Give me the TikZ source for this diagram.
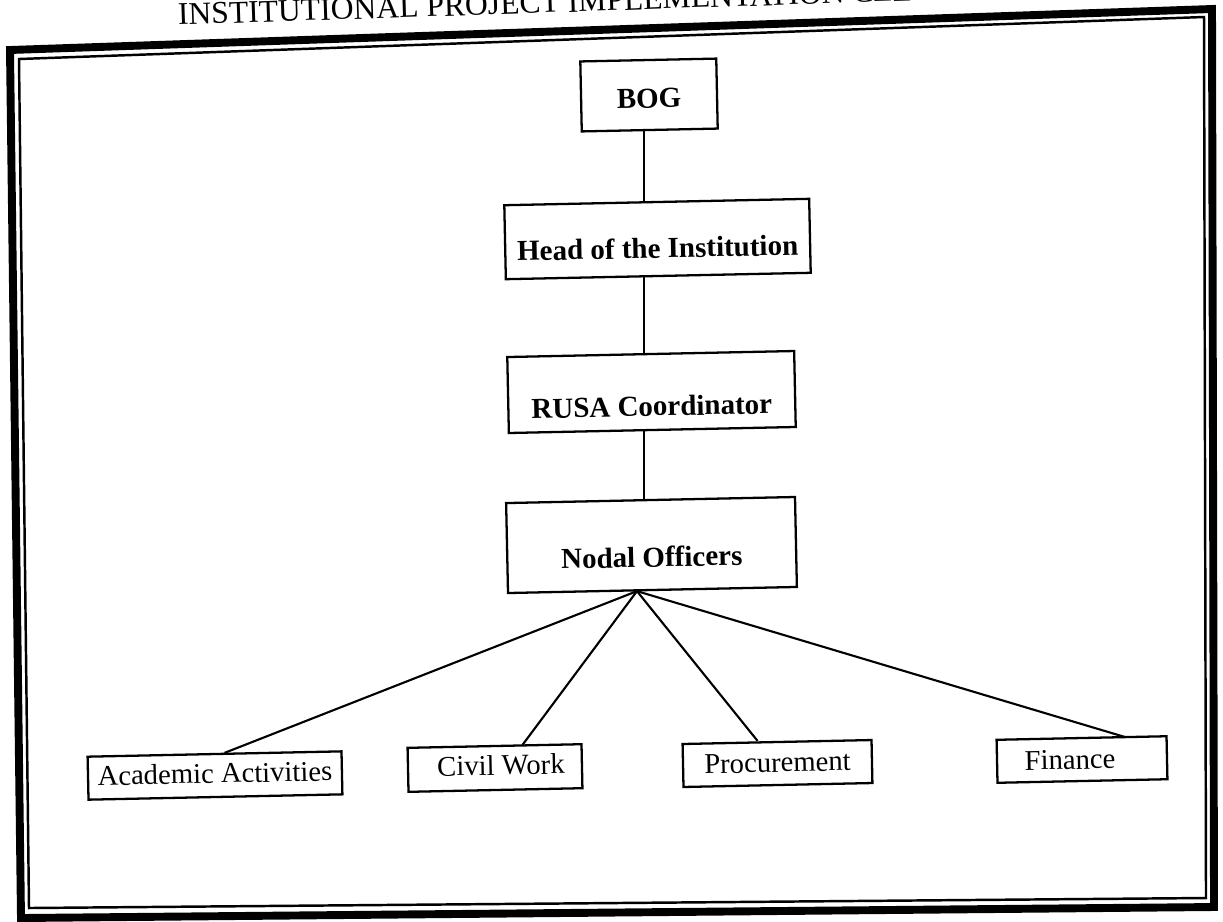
\documentclass[tikz,border=0pt]{standalone}
\usepackage{fontspec}
\setmainfont{Liberation Serif}
\begin{document}
\begin{tikzpicture}[x=0.02cm,y=-0.02cm,
  box/.style={draw, line width=1.3pt, inner xsep=0pt, inner ysep=0pt, rotate=1.2,
    font=\bfseries\fontsize{16.5}{19}\selectfont},
  sub/.style={box, font=\fontsize{16.3}{19}\selectfont},
  link/.style={line width=1.2pt},
  outerframe/.style={line width=4.5pt, line join=miter},
  innerframe/.style={line width=1.4pt, line join=miter}]
\useasboundingbox (0,0) rectangle (1223,921);
\fill[white] (0,0) rectangle (1223,921);
\begin{scope}
  \clip (0,0) rectangle (1223,921);
  \node[anchor=base west, rotate=1.9, inner sep=0pt, font=\fontsize{18}{20}\selectfont] (title) at (178,25)
    {INSTITUTIONAL PROJECT IMPLEMENTATION CELL};
\end{scope}
% frame
\draw[outerframe] (10,50) -- (1212,9) -- (1214,907) -- (21,918) -- cycle;
\draw[innerframe] (19,59) -- (1204,17) -- (1206,898) -- (29,908) -- cycle;
% upper chain
\node[box, minimum width=2.72cm, text height=0.96cm, text depth=0.44cm] (bog) at (649,95) {BOG};
\node[box, minimum width=6.1cm, text height=1.12cm, text depth=0.36cm] (head) at (657.5,239) {Head of the Institution};
\node[box, minimum width=5.74cm, text height=1.24cm, text depth=0.28cm] (rusa) at (651.5,392) {RUSA Coordinator};
\node[box, minimum width=5.78cm, text height=1.34cm, text depth=0.46cm] (nodal) at (651.5,545) {Nodal Officers};
% lower row
\node[sub, minimum width=5.08cm, text height=0.58cm, text depth=0.28cm] (acad) at (215,775.5) {Academic Activities};
\node[sub, minimum width=3.48cm, text height=0.58cm, text depth=0.30cm] (civil) at (495,768) {\hspace*{0.24cm}Civil Work};
\node[sub, minimum width=3.78cm, text height=0.60cm, text depth=0.26cm] (proc) at (777.5,763.5) {Procurement};
\node[sub, minimum width=3.4cm, text height=0.62cm, text depth=0.24cm] (fin) at (1082,759.5) {Finance\hspace*{0.48cm}};
% connectors
\coordinate (spine) at (644,0);
\draw[link] (bog.south -| spine) -- (head.north -| spine);
\draw[link] (head.south -| spine) -- (rusa.north -| spine);
\draw[link] (rusa.south -| spine) -- (nodal.north -| spine);
\coordinate (hub) at ([xshift=-0.31cm]nodal.south);
\draw[link] (hub) -- ([xshift=0.2cm]acad.north);
\draw[link] (hub) -- ([xshift=0.56cm]civil.north);
\draw[link] (hub) -- ([xshift=-0.39cm]proc.north);
\draw[link] (hub) -- ([xshift=0.86cm]fin.north);
\end{tikzpicture}
\end{document}
